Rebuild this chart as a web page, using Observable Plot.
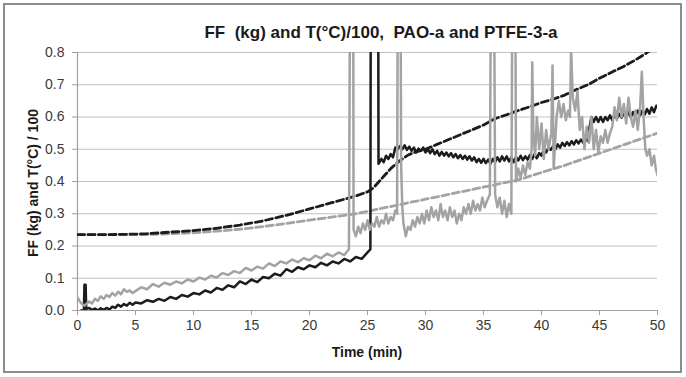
<!DOCTYPE html>
<html>
<head>
<meta charset="utf-8">
<script src="https://cdn.jsdelivr.net/npm/d3@7"></script>
<script src="https://cdn.jsdelivr.net/npm/@observablehq/plot@0.6"></script>
<style>
  html, body { margin: 0; padding: 0; background: #fff; }
  #wrap { position: relative; width: 686px; height: 377px; overflow: hidden; font-family: 'Liberation Sans', Arial, sans-serif; }
  #border { position: absolute; left: 3px; top: 3px; width: 675px; height: 366px; border: 2px solid #8c8c8c; }
  #chart { position: absolute; left: 0; top: 0; }
  #title { position: absolute; left: 131px; width: 500px; top: 24px; line-height: 17px; font-size: 17px; font-weight: bold; text-align: center; color: #1a1a1a; white-space: pre; }
  #ylab { position: absolute; left: 33px; top: 183px; transform: translate(-50%, -50%) rotate(-90deg); font-size: 14px; line-height: 14px; font-weight: bold; color: #1a1a1a; white-space: nowrap; }
  #xlab { position: absolute; left: 217px; width: 300px; top: 345px; font-size: 14px; line-height: 14px; font-weight: bold; text-align: center; color: #1a1a1a; }
</style>
</head>
<body>
<div id="wrap"><div id="border"></div><div id="chart"></div><div id="title"></div><div id="ylab"></div><div id="xlab"></div></div>
<script>
const titleText = "FF  (kg) and T(°C)/100,  PAO-a and PTFE-3-a";
const yLabel = "FF (kg) and T(°C) / 100";
const xLabel = "Time (min)";
const xTicks = [0, 5, 10, 15, 20, 25, 30, 35, 40, 45, 50];
const yTicks = [0, 0.1, 0.2, 0.3, 0.4, 0.5, 0.6, 0.7, 0.8];

// FF PAO-a (black solid)
const ffPaoT = [0.3,0.55,0.6,0.7,0.75,1,1.25,1.5,1.75,2,2.25,2.5,2.75,3,3.25,3.5,3.75,4,4.25,4.5,4.75,5,5.5,6,6.5,7,7.5,8,8.5,9,9.5,10,10.5,11,11.5,12,12.5,13,13.5,14,14.5,15,15.5,16,16.5,17,17.5,18,18.5,19,19.5,20,20.5,21,21.5,22,22.5,23,23.5,24,24.5,25,25.25,25.3,25.9,25.95,26.2,26.4,26.6,26.8,27,27.2,27.4,27.6,27.8,28,28.2,28.4,28.6,28.8,29,29.2,29.4,29.6,29.8,30,30.2,30.4,30.6,30.8,31,31.2,31.4,31.6,31.8,32,32.2,32.4,32.6,32.8,33,33.2,33.4,33.6,33.8,34,34.2,34.4,34.6,34.8,35,35.2,35.4,35.6,35.8,36,36.2,36.4,36.6,36.8,37,37.2,37.4,37.6,37.8,38,38.2,38.4,38.6,38.8,39,39.2,39.4,39.6,39.8,40,40.2,40.4,40.6,40.8,41,41.2,41.4,41.6,41.8,42,42.2,42.4,42.6,42.8,43,43.2,43.4,43.6,43.8,44,44.1,44.3,44.5,44.7,44.9,45.1,45.3,45.5,45.7,45.9,46.1,46.3,46.5,46.7,46.9,47.1,47.3,47.5,47.7,47.9,48.1,48.3,48.5,48.7,48.9,49.1,49.3,49.5,49.7,49.9,50];
const ffPao = [0.0,0.0,0.08,0.08,0.005,0.008,0.002,0.006,0.0,0.007,0.002,0.008,0.003,0.012,0.008,0.018,0.012,0.02,0.015,0.024,0.018,0.025,0.022,0.032,0.027,0.036,0.03,0.042,0.036,0.048,0.043,0.054,0.05,0.062,0.056,0.07,0.064,0.078,0.072,0.09,0.082,0.096,0.088,0.104,0.1,0.114,0.108,0.128,0.12,0.134,0.128,0.14,0.134,0.148,0.14,0.152,0.146,0.16,0.152,0.166,0.16,0.18,0.19,1.5,1.5,0.455,0.47,0.46,0.48,0.47,0.485,0.475,0.505,0.5,0.51,0.5,0.512,0.498,0.508,0.495,0.505,0.49,0.502,0.495,0.505,0.49,0.5,0.488,0.5,0.485,0.495,0.48,0.492,0.48,0.49,0.478,0.488,0.475,0.485,0.472,0.482,0.47,0.48,0.468,0.478,0.465,0.475,0.46,0.47,0.458,0.47,0.457,0.468,0.455,0.47,0.46,0.475,0.462,0.478,0.465,0.478,0.462,0.475,0.46,0.476,0.465,0.48,0.466,0.478,0.468,0.482,0.47,0.485,0.472,0.488,0.48,0.5,0.49,0.505,0.498,0.51,0.5,0.515,0.505,0.52,0.51,0.522,0.512,0.525,0.515,0.528,0.518,0.53,0.52,0.532,0.525,0.56,0.6,0.585,0.6,0.585,0.6,0.585,0.6,0.59,0.605,0.59,0.608,0.595,0.61,0.598,0.612,0.6,0.615,0.6,0.615,0.603,0.62,0.605,0.62,0.608,0.625,0.61,0.63,0.615,0.635,0.63];

// FF PTFE-3-a (grey solid)
const ffPtfeT = [0,0.2,0.4,0.6,1,1.25,1.5,1.75,2,2.25,2.5,2.75,3,3.25,3.5,3.75,4,4.25,4.5,4.75,5,5.5,6,6.5,7,7.5,8,8.5,9,9.5,10,10.5,11,11.5,12,12.5,13,13.5,14,14.5,15,15.5,16,16.5,17,17.5,18,18.5,19,19.5,20,20.5,21,21.5,22,22.5,23,23.4,23.55,23.75,23.8,24,24.2,24.4,24.6,24.8,25,25.2,25.4,25.6,25.8,26,26.2,26.4,26.6,26.8,27,27.2,27.4,27.55,27.65,27.8,27.9,28,28.1,28.3,28.5,28.7,28.9,29.1,29.3,29.5,29.7,29.9,30.1,30.3,30.5,30.7,30.9,31.1,31.3,31.5,31.7,31.9,32.1,32.3,32.5,32.7,32.9,33.1,33.3,33.5,33.7,33.9,34.1,34.3,34.5,34.7,34.9,35.1,35.3,35.55,35.7,35.85,36,36.2,36.4,36.6,36.8,37,37.2,37.4,37.55,37.7,37.8,38,38.2,38.4,38.6,38.8,39,39.15,39.2,39.3,39.45,39.6,39.8,40,40.2,40.4,40.6,40.85,40.95,41.05,41.3,41.5,41.7,41.9,42.1,42.3,42.45,42.55,42.7,42.9,43.1,43.3,43.5,43.7,43.9,44.1,44.3,44.5,44.7,44.9,45.1,45.3,45.5,45.7,45.9,46.1,46.3,46.5,46.7,46.9,47.1,47.3,47.5,47.7,47.9,48.1,48.3,48.5,48.65,48.8,48.95,49.1,49.3,49.5,49.7,49.85,50];
const ffPtfe = [0.04,0.028,0.02,0.015,0.028,0.022,0.036,0.03,0.044,0.036,0.048,0.042,0.054,0.046,0.058,0.05,0.066,0.058,0.062,0.054,0.06,0.072,0.066,0.082,0.074,0.086,0.08,0.09,0.084,0.096,0.09,0.102,0.096,0.108,0.102,0.116,0.11,0.122,0.116,0.132,0.124,0.136,0.13,0.146,0.138,0.152,0.146,0.158,0.15,0.162,0.156,0.17,0.162,0.176,0.168,0.18,0.172,0.19,1.5,1.5,0.25,0.23,0.26,0.24,0.27,0.25,0.28,0.25,0.27,0.26,0.29,0.26,0.28,0.27,0.3,0.27,0.29,0.28,0.31,0.3,1.5,1.5,0.45,0.32,0.27,0.23,0.26,0.25,0.28,0.26,0.29,0.27,0.3,0.27,0.31,0.28,0.32,0.29,0.31,0.28,0.33,0.29,0.31,0.28,0.32,0.29,0.31,0.27,0.3,0.28,0.32,0.3,0.33,0.3,0.34,0.31,0.33,0.31,0.35,0.32,0.34,0.36,1.5,1.5,0.36,0.32,0.35,0.3,0.34,0.29,0.33,0.3,1.5,1.5,0.4,0.44,0.41,0.45,0.42,0.46,0.44,0.5,0.77,0.55,0.48,0.6,0.5,0.58,0.47,0.56,0.5,0.55,0.76,0.44,0.6,0.65,0.6,0.64,0.59,0.62,0.6,0.81,0.66,0.62,0.68,0.56,0.6,0.5,0.57,0.52,0.6,0.5,0.56,0.49,0.54,0.52,0.56,0.52,0.55,0.57,0.63,0.59,0.66,0.6,0.64,0.58,0.66,0.6,0.57,0.62,0.56,0.63,0.74,0.6,0.5,0.48,0.5,0.45,0.48,0.44,0.42];

// T PAO-a (black dashed)
const tPaoT = [0,2,4,6,8,10,12,14,16,18,20,22,23,24,25,25.5,26,26.5,27,27.5,28,28.5,29,30,31,32,33,34,35,36,37,38,39,40,41,42,43,44,45,46,47,48,49,49.5,50];
const tPao = [0.235,0.235,0.236,0.238,0.243,0.248,0.255,0.265,0.278,0.295,0.315,0.335,0.345,0.355,0.368,0.38,0.4,0.42,0.44,0.456,0.47,0.482,0.49,0.5,0.515,0.53,0.545,0.56,0.575,0.595,0.607,0.62,0.632,0.645,0.655,0.668,0.685,0.7,0.72,0.738,0.755,0.775,0.797,0.81,0.82];

// T PTFE-3-a (grey dashed)
const tPtfeT = [0,2,4,6,8,10,12,14,16,18,20,22,24,26,28,30,32,34,36,38,40,42,44,46,48,50];
const tPtfe = [0.235,0.235,0.235,0.236,0.238,0.241,0.246,0.252,0.26,0.27,0.28,0.29,0.3,0.315,0.33,0.345,0.36,0.375,0.39,0.405,0.428,0.45,0.475,0.5,0.525,0.55];

document.getElementById("title").textContent = titleText;
document.getElementById("ylab").textContent = yLabel;
document.getElementById("xlab").textContent = xLabel;

const zip = (xs, ys) => xs.map((x, i) => ({x, y: ys[i]}));
const black = "#1c1c1c", grey = "#a3a3a3";

const chart = Plot.plot({
  width: 686, height: 377,
  marginLeft: 77, marginRight: 29, marginTop: 52, marginBottom: 67,
  style: {fontFamily: "'Liberation Sans', Arial, sans-serif", fontSize: "14px", color: "#3a3a3a", background: "transparent"},
  x: {domain: [0, 50]},
  y: {domain: [0, 0.8]},
  marks: [
    Plot.gridY(yTicks, {stroke: "#c2c2c2", strokeOpacity: 1, strokeWidth: 1.2}),
    Plot.ruleX([0], {stroke: "#a0a0a0", strokeWidth: 1.2}),
    Plot.ruleY([0], {stroke: "#a0a0a0", strokeWidth: 1.2}),
    Plot.axisY(yTicks, {tickFormat: d3.format(".1f"), tickSize: 5, tickPadding: 8, stroke: "#a0a0a0", label: null}),
    Plot.axisX(xTicks, {tickSize: 5, tickPadding: 5, stroke: "#a0a0a0", label: null}),
    Plot.line(zip(tPtfeT, tPtfe), {x: "x", y: "y", stroke: grey, strokeWidth: 2.8, strokeDasharray: "7,3.5", clip: true}),
    Plot.line(zip(tPaoT, tPao), {x: "x", y: "y", stroke: black, strokeWidth: 2.8, strokeDasharray: "7,3.5", clip: true}),
    Plot.line(zip(ffPaoT, ffPao), {x: "x", y: "y", stroke: black, strokeWidth: 2.5, clip: true}),
    Plot.line(zip(ffPtfeT, ffPtfe), {x: "x", y: "y", stroke: grey, strokeWidth: 2.5, clip: true})
  ]
});
document.getElementById("chart").appendChild(chart);
</script>
</body>
</html>
